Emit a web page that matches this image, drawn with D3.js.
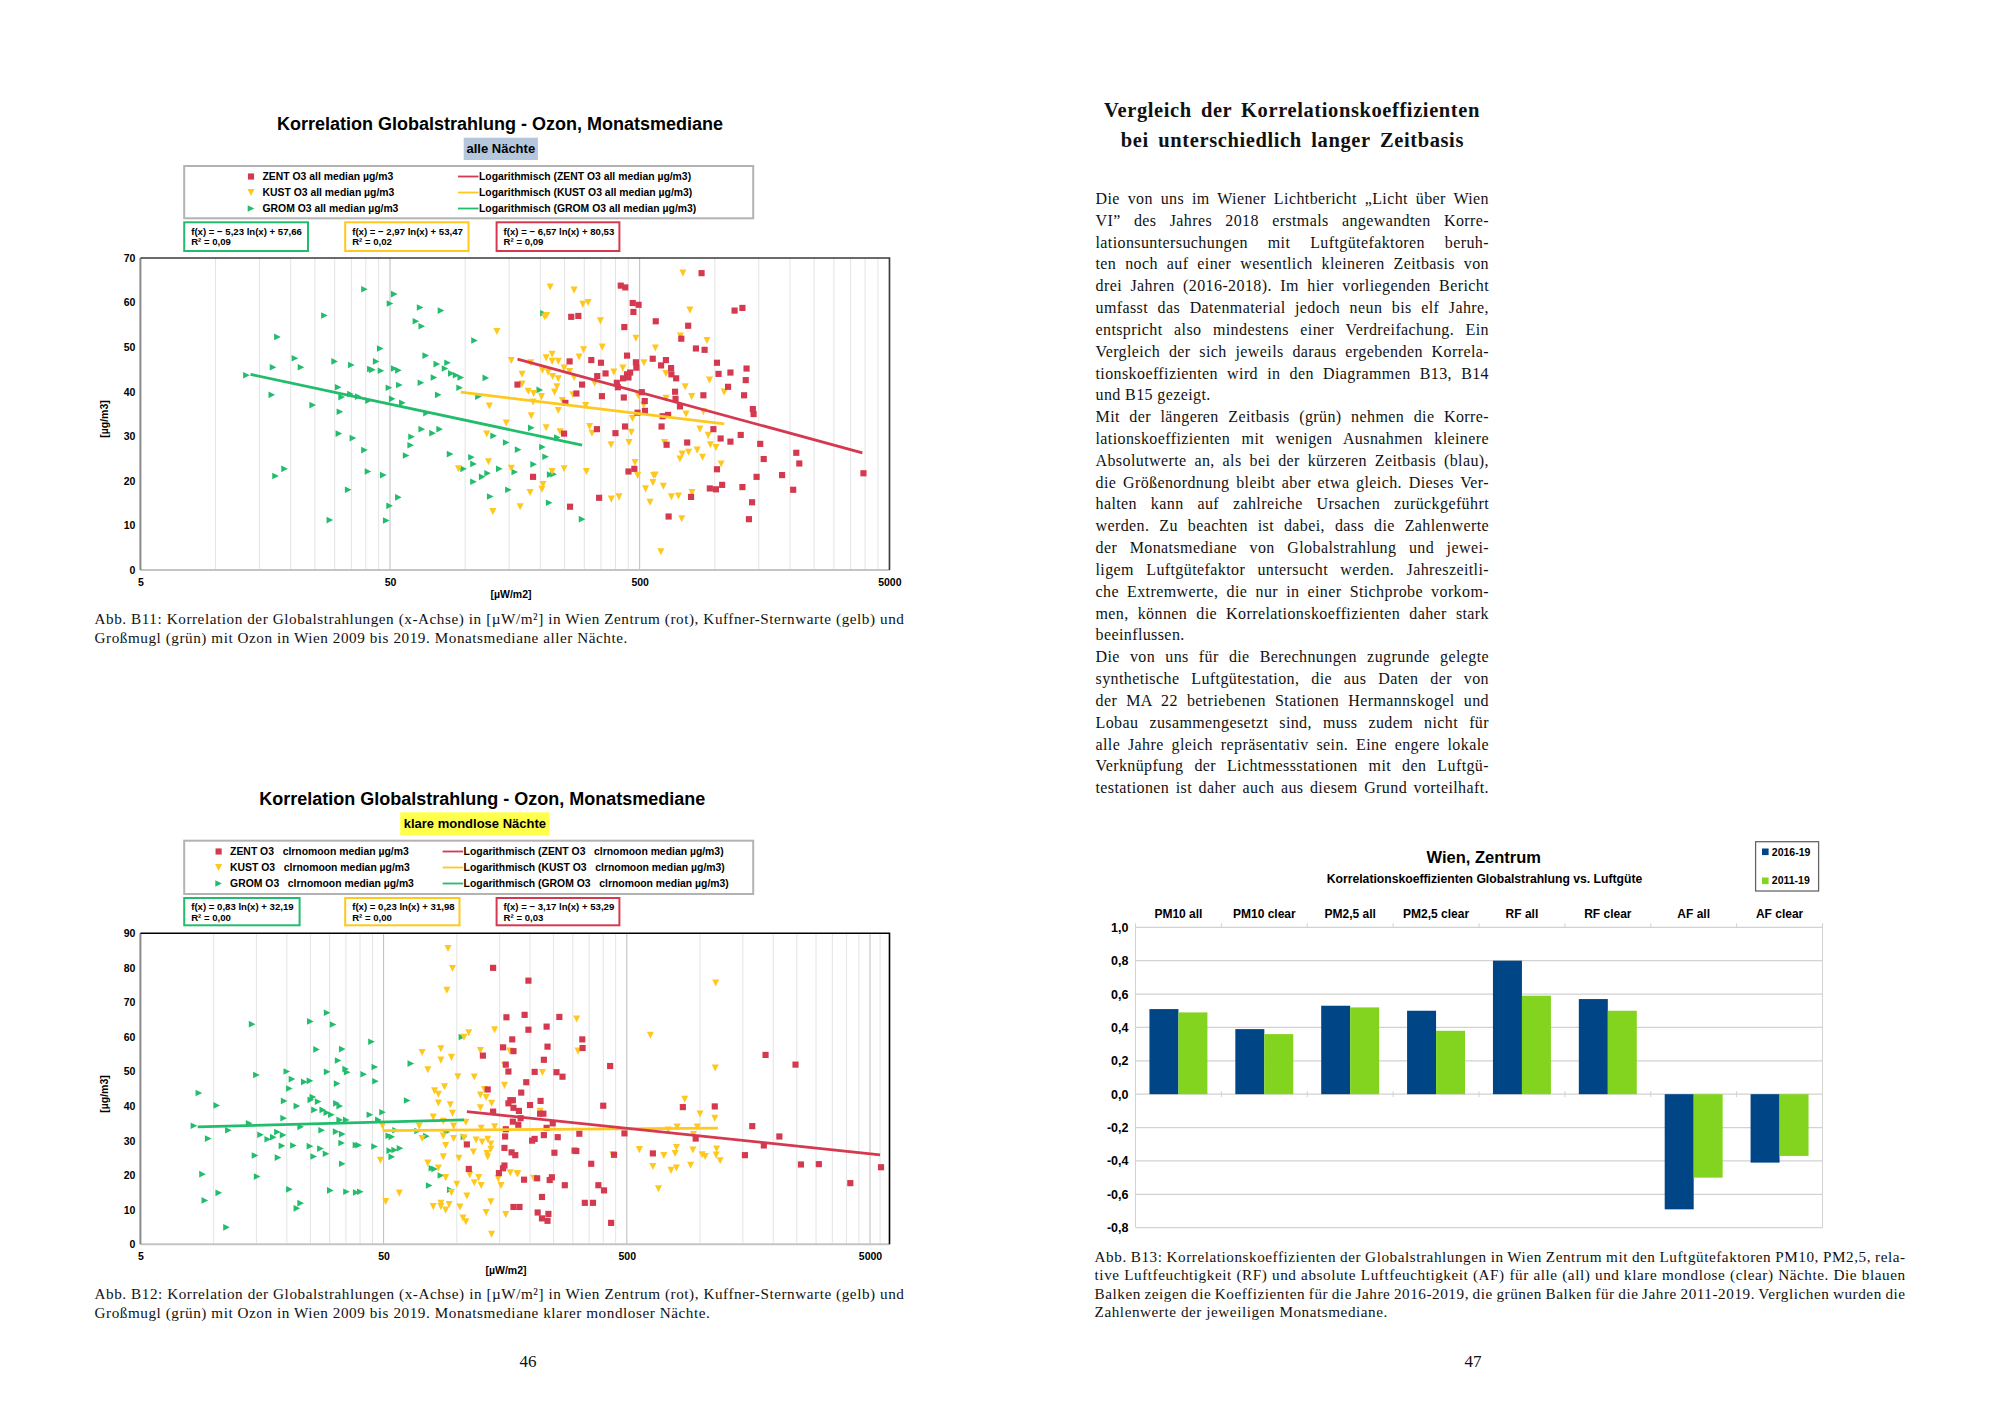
<!DOCTYPE html>
<html><head><meta charset="utf-8">
<script src="https://cdn.jsdelivr.net/npm/d3@7"></script>
<style>html,body{margin:0;padding:0;background:#fff}svg{display:block}
.s{font-family:"Liberation Sans",Arial,sans-serif;font-weight:bold;white-space:pre;fill:#000}
.r{font-family:"Liberation Serif",serif;fill:#111;white-space:pre}
.axis path,.axis line{display:none}
</style></head><body><svg id="c" width="2000" height="1414"></svg>
<script>
const grom1=[[39.5,63],[52,61.9],[50,59.8],[66,58.9],[80,58.2],[63.5,55.8],[67,54.7],[27.3,57.1],[17.7,52.3],[109,51.5],[45.7,49.7],[20.8,47.5],[30,46.8],[44,46.8],[69.5,48.1],[77,46.2],[85,46.5],[35,46],[17,45.5],[22,45.5],[41.7,45.1],[42.5,44.9],[46,44.7],[52,45.2],[54,44.8],[83,45.2],[88,44.1],[92,43.7],[96,43.2],[75,43.2],[121,43.1],[13.3,43.7],[66.5,42],[31,41],[49.5,40.9],[54.5,41.5],[95,40.9],[16.8,39.3],[32,38.8],[34.7,39.5],[37.3,38.9],[41,38],[51,38.4],[78,39.3],[113,38.9],[56,37.5],[24.5,37],[31.5,35.5],[70,35.2],[67,31.6],[79,31.6],[74,30.7],[31.2,30.6],[35.5,29.6],[61,29.9],[60.5,28],[130,30.1],[146,28.6],[163,27],[39.5,26.9],[58,25.7],[87,26],[106,25.3],[108,23.8],[18.9,22.7],[98.5,22.7],[137,22.7],[158,22],[40.8,22.1],[47,21.3],[17.4,21.1],[123,21.7],[117,20.9],[108,19.8],[34,18],[149,18],[54,16.3],[126,16.5],[49.8,14.4],[28.7,11.2],[48.3,11.1],[206,57.6],[199,40.4],[204,27.6],[210,25.4],[188,23.7],[219,21.4],[226,21.5],[217,15.1],[294,11.4],[184,31.9],[234,29.7]];
const kust1=[[219,63.5],[273,62.8],[311,60],[296,59.6],[212,57.1],[208,56.8],[348,55.9],[745,66.6],[795,58.3],[728,52.5],[483,52],[930,51.5],[578,49.8],[354,50],[298,49.4],[286,47.8],[223,48.4],[211,47.6],[223,46.8],[236,46.8],[153,47],[183,46.5],[249,45.3],[262,44.5],[204,44.8],[215,44.4],[169,43.9],[224,43.4],[236,42.9],[273,43.2],[394,44.4],[428,45.3],[520,46.5],[637,44.1],[169,41.7],[330,41.9],[233,41.1],[228,39.9],[179,40.1],[188,39.6],[202,38.9],[270,39.3],[187,37.7],[245,38],[494,39.1],[761,41.1],[952,42.6],[1090,39.9],[808,38.9],[638,38.5],[304,36.9],[236,35.8],[184,34.6],[767,35],[900,35.5],[468,34],[519,37],[146,33],[211,31.9],[315,32.2],[871,31.6],[240,31],[322,30.7],[463,30.9],[941,30.2],[384,28.1],[453,28.6],[629,28.6],[960,28.1],[1010,27.5],[850,26.9],[785,26.4],[740,26],[725,24.9],[893,25.3],[479,24.1],[1060,23.8],[153,22.8],[223,22.1],[249,22.7],[306,22.1],[569,21.2],[577,21.3],[491,21.2],[565,19.6],[622,18.8],[205,19.2],[203,18.1],[182,17.4],[528,18.2],[810,17.4],[385,15.9],[413,16.4],[550,15.2],[670,16.4],[715,16.6],[166,14.2],[737,11.5],[608,4.1],[134,53.5],[125,36.8],[122,30.5],[124,24.3],[94,22.7],[129,13.1]];
const zent1=[[885,66.6],[420,63.8],[438,63.4],[1290,58.8],[1200,58.2],[469,59.9],[495,59.5],[472,57.9],[266,56.8],[284,57],[580,55.8],[434,54.5],[782,54.8],[734,51.9],[840,49.7],[910,49.4],[445,48.1],[564,47.4],[637,47.1],[262,46.8],[320,47.1],[350,46.5],[483,46.6],[1020,46.5],[609,45.9],[668,45.3],[485,45.4],[1340,45.2],[1155,44.3],[1035,44],[365,44.1],[670,43.9],[458,44.3],[445,43.9],[338,43.5],[700,43],[429,43],[451,43.2],[1330,42.6],[405,42],[294,41.6],[409,41],[1130,41.1],[162,41.6],[279,39.6],[353,39],[432,38.7],[510,39.9],[900,39.2],[1310,39.2],[693,40],[696,38.4],[524,37.9],[252,37.5],[725,36.7],[1420,36.1],[1430,35],[525,35.7],[490,35.3],[618,34.5],[650,34.8],[437,32.2],[612,32.2],[337,31.6],[987,31.6],[249,30.6],[400,30.7],[1270,30.3],[1055,29.5],[775,28.6],[1155,28.8],[1520,28.3],[641,28.1],[2120,26.3],[1570,24.9],[2180,23.9],[1020,22.6],[476,22.7],[451,22.1],[3940,21.7],[1860,21.3],[1470,20.9],[187,20.9],[1070,19.1],[955,18.3],[1010,18.1],[1290,18.6],[2060,18],[344,16.2],[803,16.4],[263,14.2],[1410,15.2],[653,12],[1370,11.4]];
const grom2=[[8.7,43.8],[10.3,40.2],[8.3,34.3],[11.5,33],[9.5,30.6],[14,35],[14.4,63.7],[29.3,67],[25,64.5],[31,63.6],[44.6,58.6],[26.5,56.4],[33.8,56.5],[32.5,53.2],[34.9,50.7],[35.4,49.8],[46,51.3],[41.4,49.2],[29.3,49.9],[20,50],[15,49],[21,47.8],[23.6,47],[24.9,47.3],[32.2,46.5],[46.3,47.2],[20.5,45.1],[64.7,52.3],[62.5,41.6],[25.6,42.6],[25.1,41.8],[19.5,41.5],[26.9,41.3],[22,40],[32,40.8],[33,40],[26,38.9],[28.1,38.9],[29.2,38.1],[30.5,37.5],[19.4,36.5],[22.8,34],[33,36],[35.1,36],[43.9,37.5],[49.5,38.2],[47.6,36],[27.8,33],[31.9,32.6],[33.8,31.9],[15.6,31.7],[18.3,32.5],[19.3,31.6],[17.6,31],[16.7,30.4],[19.1,28.5],[21.3,28.6],[24.9,28.4],[27.5,27.7],[33.6,29.3],[38.5,28.7],[39.5,28.7],[45.9,28.3],[25.8,25.4],[29,26.2],[14.8,25.7],[18.4,25.1],[33.8,23.3],[53,27.1],[55.5,27.3],[58.4,27.8],[54,25.3],[52.5,31.4],[54,31.1],[56,33],[79,22],[81,21.8],[86,19.9],[77,17],[94,15.8],[9,20.3],[15.1,19.6],[10.5,14.9],[9.2,12.7],[11.3,4.9],[20.5,15.9],[30.2,15.6],[35.2,15.2],[38.6,15],[40.1,15.2],[22.8,11.9],[22,10.4],[105,60],[69,32.8],[75,31.3],[91,32.5],[107,31.1]];
const kust2=[[92,85.6],[96,79.8],[91,73.5],[112,61.2],[107,59.9],[143,62.1],[86,56.6],[72,55.5],[95,54.1],[86,53.3],[76,50.5],[101,48.5],[118,48.4],[125,56.1],[165,55.9],[157,51.8],[157,46],[89,45.6],[130,44.8],[81,44.4],[84,43.4],[125,43.2],[132,42.5],[139,40.8],[84,40.9],[94,40.4],[125,39.5],[96,37.9],[80,36.8],[88,35.6],[109,35.3],[49.5,34.3],[70,34.2],[97,34.2],[126,33.6],[143,34],[72,30.6],[88,31.3],[97,30.6],[107,30.8],[120,30.2],[127,29.6],[134,30.4],[138,29],[138,27.5],[117,26.7],[90,28.6],[133,26.3],[134,25.3],[88,25.3],[102,24.9],[48.5,24.3],[76,23.5],[84,22.1],[113,20.1],[90,19.3],[123,19.3],[148,19],[118,17.8],[126,17],[166,20.7],[178,20.4],[100,17.4],[152,17],[95,15],[110,14],[58,14.8],[51,12.4],[138,12.3],[86,11.9],[93,11.5],[80,10.9],[86,10.9],[90,9.9],[103,10.8],[132,9.2],[159,8.6],[106,7.6],[109,6.5],[139,2.9],[311,65.2],[625,60.5],[1160,75.6],[315,55.9],[1155,51],[225,49.7],[865,42],[1000,37.7],[1150,36.5],[220,38.5],[805,33.9],[975,33.9],[740,33.1],[940,31.8],[563,27.4],[800,28],[935,27.3],[1170,27.6],[710,25.7],[790,26.3],[1020,25.9],[1050,25.4],[1165,25.8],[1210,24.2],[640,22.5],[800,22.1],[760,21.4],[915,22.9],[675,16.1],[437,25.9],[177,20.4],[207,19.1]];
const zent2=[[141,80],[197,76.3],[160,65.7],[190,66.4],[197,62.1],[169,59.3],[155,57],[171,55.9],[128,54.6],[159,52],[163,50],[193,46.9],[134,44.8],[184,43.9],[166,41.7],[170,41.7],[163,40.8],[171,39.5],[180,38.6],[141,38.4],[183,36.5],[170,35.5],[179,34.6],[159,33.3],[158,31.2],[209,30.5],[110,28.9],[157,27.9],[168,26.6],[174,25.8],[157,22.8],[112,21.8],[155,22],[149,20.6],[189,18.7],[171,10.8],[181,10.8],[215,9.2],[234,63],[264,65.8],[328,59.3],[236,57.2],[329,56.8],[228,53.4],[427,51.6],[209,49.9],[257,49.8],[272,48.5],[221,41.5],[200,40.3],[400,40.1],[850,39.7],[1150,39.9],[220,37.8],[227,37.8],[248,35],[234,33.7],[228,31.6],[260,31],[204,30],[319,32],[489,32.1],[960,30.6],[1640,34.2],[1860,54.8],[2470,52],[2120,31.2],[252,26.5],[305,27.1],[310,27],[443,25.9],[640,26.3],[1530,25.8],[1830,28.6],[357,23.3],[2600,23.1],[3080,23.2],[5550,22.3],[4150,17.7],[214,19.1],[246,19.4],[241,18.6],[278,17.1],[382,17.1],[403,15.6],[224,13.7],[336,12],[363,12],[238,8.8],[224,7.5],[236,6.8],[431,6.2]];
const trend1={grom:[[13.8,43.9],[294,28]],kust:[[96,39.9],[1090,32.8]],zent:[[162,47.3],[3900,26.3]]};
const trend2={grom:[[8.6,34],[107,36]],kust:[[49.5,32.9],[1185,33.6]],zent:[[110,38.4],[5500,25.9]]};
const xTickValues=[5,50,500,5000];
const gridBase=[5,10,15,20,25,30,35,40,45];
const decades=[1,10,100];
const barCats=["PM10 all","PM10 clear","PM2,5 all","PM2,5 clear","RF all","RF clear","AF all","AF clear"];
const bars1619=[0.51,0.39,0.53,0.50,0.80,0.57,-0.69,-0.41];
const bars1119=[0.49,0.36,0.52,0.38,0.59,0.50,-0.50,-0.37];
const headLines=["Vergleich der Korrelationskoeffizienten","bei unterschiedlich langer Zeitbasis"];
const bodyLines=["Die von uns im Wiener Lichtbericht „Licht über Wien","VI” des Jahres 2018 erstmals angewandten Korre-","lationsuntersuchungen mit Luftgütefaktoren beruh-","ten noch auf einer wesentlich kleineren Zeitbasis von","drei Jahren (2016-2018). Im hier vorliegenden Bericht","umfasst das Datenmaterial jedoch neun bis elf Jahre,","entspricht also mindestens einer Verdreifachung. Ein","Vergleich der sich jeweils daraus ergebenden Korrela-","tionskoeffizienten wird in den Diagrammen B13, B14","und B15 gezeigt.","Mit der längeren Zeitbasis (grün) nehmen die Korre-","lationskoeffizienten mit wenigen Ausnahmen kleinere","Absolutwerte an, als bei der kürzeren Zeitbasis (blau),","die Größenordnung bleibt aber etwa gleich. Dieses Ver-","halten kann auf zahlreiche Ursachen zurückgeführt","werden. Zu beachten ist dabei, dass die Zahlenwerte","der Monatsmediane von Globalstrahlung und jewei-","ligem Luftgütefaktor untersucht werden. Jahreszeitli-","che Extremwerte, die nur in einer Stichprobe vorkom-","men, können die Korrelationskoeffizienten daher stark","beeinflussen.","Die von uns für die Berechnungen zugrunde gelegte","synthetische Luftgütestation, die aus Daten der von","der MA 22 betriebenen Stationen Hermannskogel und","Lobau zusammengesetzt sind, muss zudem nicht für","alle Jahre gleich repräsentativ sein. Eine engere lokale","Verknüpfung der Lichtmessstationen mit den Luftgü-","testationen ist daher auch aus diesem Grund vorteilhaft."];
const bodyLast=[9,20];
const capB11=["Abb. B11: Korrelation der Globalstrahlungen (x-Achse) in [µW/m²] in Wien Zentrum (rot), Kuffner-Sternwarte (gelb) und","Großmugl (grün) mit Ozon in Wien 2009 bis 2019. Monatsmediane aller Nächte."];
const capB12=["Abb. B12: Korrelation der Globalstrahlungen (x-Achse) in [µW/m²] in Wien Zentrum (rot), Kuffner-Sternwarte (gelb) und","Großmugl (grün) mit Ozon in Wien 2009 bis 2019. Monatsmediane klarer mondloser Nächte."];
const capB13=["Abb. B13: Korrelationskoeffizienten der Globalstrahlungen in Wien Zentrum mit den Luftgütefaktoren PM10, PM2,5, rela-","tive Luftfeuchtigkeit (RF) und absolute Luftfeuchtigkeit (AF) für alle (all) und klare mondlose (clear) Nächte. Die blauen","Balken zeigen die Koeffizienten für die Jahre 2016-2019, die grünen Balken für die Jahre 2011-2019. Verglichen wurden die","Zahlenwerte der jeweiligen Monatsmediane."];

const RED="#d5394f",YEL="#ffc81e",GRN="#22bd6c";
const svg=d3.select("#c");
function T(x,y,s,size,anchor,cls){return svg.append("text").attr("class",cls||"s").attr("x",x).attr("y",y).attr("font-size",size).attr("text-anchor",anchor||"start").text(s);}
const triDown={draw(c,s){const r=Math.sqrt(s)/2;c.moveTo(-r,-r);c.lineTo(r,-r);c.lineTo(0,r);c.closePath();}};
const triRight={draw(c,s){const r=Math.sqrt(s)/2;c.moveTo(-r,-r);c.lineTo(r,0);c.lineTo(-r,r);c.closePath();}};
const SQ=d3.symbol(d3.symbolSquare,38)(),TD=d3.symbol(triDown,50)(),TR=d3.symbol(triRight,44)();

function scatter(o){
  const x=d3.scaleLog().domain([5,5000]).range([140.4,o.xEnd]);
  const y=d3.scaleLinear().domain([0,o.ymax]).range([o.bottom,o.top]);
  const R=889.5,L=140.4;
  const g=svg.append("g");
  const grid=decades.flatMap(d=>gridBase.map(b=>b*d)).concat([5000]).filter(v=>v>5&&x(v)<R);
  const extra=d3.range(5500,7000,500).filter(v=>x(v)<R);
  g.selectAll(".gr").data(grid.concat(extra)).join("line").attr("x1",d=>x(d)).attr("x2",d=>x(d)).attr("y1",o.top).attr("y2",o.bottom)
    .attr("stroke",d=>(d==50||d==500||d==5000)?"#bdbdbd":"#e4e4e4").attr("stroke-width",1);
  const ax=g.append("g").attr("class","axis").attr("transform",`translate(0,${o.bottom})`)
    .call(d3.axisBottom(x).tickValues(xTickValues).tickFormat(d=>d).tickSizeOuter(0));
  ax.selectAll("text").attr("class","s").attr("font-size",10.5).attr("y",o.xLabelDy).attr("dy",0);
  const ay=g.append("g").attr("class","axis").attr("transform",`translate(${L},0)`)
    .call(d3.axisLeft(y).tickValues(d3.range(0,o.ymax+1,10)).tickFormat(d=>d).tickSizeOuter(0));
  ay.selectAll("text").attr("class","s").attr("font-size",10.5).attr("x",-5);
  g.append("path").attr("d",`M${L},${o.bottom}H${R}`).attr("stroke","#c4c4c4").attr("stroke-width",2).attr("fill","none");
  g.append("path").attr("d",`M${L},${o.bottom}V${o.top}`).attr("stroke","#8a8a8a").attr("stroke-width",2).attr("fill","none");
  g.append("path").attr("d",`M${L},${o.top}H${R}V${o.bottom}`).attr("stroke",o.frame).attr("stroke-width",1.6).attr("fill","none");
  const sets=[[o.grom,TR,GRN],[o.kust,TD,YEL],[o.zent,SQ,RED]];
  sets.forEach(([d,p,c])=>g.append("g").selectAll("path").data(d).join("path").attr("d",p).attr("fill",c)
     .attr("transform",v=>`translate(${x(v[0])},${y(v[1])})`));
  const ln=d3.line().x(d=>x(d[0])).y(d=>y(d[1]));
  [[o.trend.grom,GRN],[o.trend.kust,YEL],[o.trend.zent,RED]].forEach(([d,c])=>g.append("path").attr("d",ln(d)).attr("stroke",c).attr("stroke-width",2.8).attr("fill","none"));
  T(o.xTitleX,o.xTitleY,"[µW/m2]",10.5,"middle");
  svg.append("text").attr("class","s").attr("font-size",10.5).attr("text-anchor","middle").attr("transform",`translate(${108},${o.yTitleY}) rotate(-90)`).text("[µg/m3]");
  T(o.titleX,o.titleY,"Korrelation Globalstrahlung - Ozon, Monatsmediane",18,"middle");
  svg.append("rect").attr("x",o.sub[0]).attr("y",o.sub[1]).attr("width",o.sub[2]).attr("height",o.sub[3]).attr("fill",o.subFill);
  T(o.sub[0]+o.sub[2]/2,o.sub[4],o.subText,13,"middle");
  svg.append("rect").attr("x",184.2).attr("y",o.leg[0]).attr("width",569).attr("height",o.leg[1]).attr("fill","none").attr("stroke","#b3b3b3").attr("stroke-width",2);
  o.legRows.forEach((r,i)=>{
    const by=o.legY[i],c=[RED,YEL,GRN][i],p=[SQ,TD,TR][i];
    svg.append("path").attr("d",p).attr("fill",c).attr("transform",`translate(${o.symX},${by-3.5})`);
    T(o.symX+11.5,by,r[0],10.4);
    svg.append("line").attr("x1",o.lineX).attr("x2",o.lineX+20.5).attr("y1",by-3.5).attr("y2",by-3.5).attr("stroke",c).attr("stroke-width",1.8);
    T(o.lineX+21,by,r[1],10.4);
  });
  o.eq.forEach(e=>{
    svg.append("rect").attr("x",e[0]).attr("y",o.eqY[0]).attr("width",e[1]).attr("height",o.eqY[1]).attr("fill","none").attr("stroke",e[2]).attr("stroke-width",2);
    T(e[0]+7,o.eqY[2],e[3],9.6);T(e[0]+7,o.eqY[3],e[4],9.6);
  });
}
function legNames(a,b){return ["ZENT","KUST","GROM"].map(n=>[`${n} O3${a} median µg/m3`,`Logarithmisch (${n} O3${a} median µg/m3)`]);}
scatter({ymax:70,top:258,bottom:570,xEnd:889.3,frame:"#3a3a3a",xLabelDy:15.5,grom:grom1,kust:kust1,zent:zent1,trend:trend1,
 xTitleX:511,xTitleY:597.5,yTitleY:419,titleX:500,titleY:130,sub:[463.7,137.7,74.2,22.3,153],subFill:"#b4c7dc",subText:"alle Nächte",
 leg:[166,52.3],legRows:legNames(" all"),legY:[180,196,212],symX:251,lineX:458,
 eq:[[184.2,123.8,GRN,"f(x) = − 5,23 ln(x) + 57,66","R² = 0,09"],[345.2,123.3,YEL,"f(x) = − 2,97 ln(x) + 53,47","R² = 0,02"],[496.6,122.8,RED,"f(x) = − 6,57 ln(x) + 80,53","R² = 0,09"]],eqY:[222.3,28.7,234.7,245]});
scatter({ymax:90,top:933.3,bottom:1244.3,xEnd:870,frame:"#000",xLabelDy:16,grom:grom2,kust:kust2,zent:zent2,trend:trend2,
 xTitleX:506,xTitleY:1274,yTitleY:1094,titleX:482.3,titleY:805,sub:[400.2,812.3,149.3,22.7,828],subFill:"#ffff4d",subText:"klare mondlose Nächte",
 leg:[840.7,53.3],legRows:legNames("   clrnomoon"),legY:[855,871,887],symX:218.6,lineX:442.6,
 eq:[[184.2,115.4,GRN,"f(x) = 0,83 ln(x) + 32,19","R² = 0,00"],[345.2,114.3,YEL,"f(x) = 0,23 ln(x) + 31,98","R² = 0,00"],[496.6,122.8,RED,"f(x) = − 3,17 ln(x) + 53,29","R² = 0,03"]],eqY:[898,27.3,910.3,920.7]});

// bar chart
(function(){
  const x=d3.scaleBand().domain(barCats).range([1135.5,1822.5]).paddingInner(0.325).paddingOuter(0.1625);
  const s=d3.scaleBand().domain(["a","b"]).range([0,x.bandwidth()]);
  const y=d3.scaleLinear().domain([-0.8,1]).range([1227.7,927.3]);
  const g=svg.append("g");
  const yt=d3.range(-8,11,2).map(v=>v/10);
  g.selectAll(".h").data(yt).join("line").attr("x1",1135.5).attr("x2",1822.5).attr("y1",d=>y(d)).attr("y2",d=>y(d)).attr("stroke","#d2d2d2").attr("stroke-width",1.2);
  g.append("line").attr("x1",1135.5).attr("x2",1135.5).attr("y1",y(1)).attr("y2",y(-.8)).attr("stroke","#d2d2d2");
  g.append("line").attr("x1",1822.5).attr("x2",1822.5).attr("y1",y(1)).attr("y2",y(-.8)).attr("stroke","#d2d2d2");
  const step=x.step();
  const tk=barCats.map((d,i)=>1135.5+i*step).concat([1822.5]);
  g.selectAll(".t").data(tk).join("path").attr("d",d=>`M${d},${y(1)-4}V${y(1)}M${d},${y(0)-3}V${y(0)+3}`).attr("stroke","#d2d2d2");
  [[bars1619,"a","#004586"],[bars1119,"b","#83d41f"]].forEach(([v,k,c])=>g.append("g").selectAll("rect").data(v).join("rect")
    .attr("x",(d,i)=>x(barCats[i])+s(k)).attr("width",s.bandwidth()).attr("y",d=>y(Math.max(d,0))).attr("height",d=>Math.abs(y(d)-y(0))).attr("fill",c));
  const ay=g.append("g").attr("class","axis").attr("transform","translate(1135.5,0)").call(d3.axisLeft(y).tickValues(yt).tickFormat(d=>d3.format(".1f")(d).replace(".",",").replace("−","-")));
  ay.selectAll("text").attr("class","s").attr("font-size",12.5).attr("x",-7);
  barCats.forEach(c=>T(x(c)+x.bandwidth()/2,918.3,c,12,"middle"));
  T(1483.8,863.3,"Wien, Zentrum",16.5,"middle");
  T(1484.5,883.3,"Korrelationskoeffizienten Globalstrahlung vs. Luftgüte",12.2,"middle");
  svg.append("rect").attr("x",1755.6).attr("y",841.7).attr("width",63).attr("height",49.3).attr("fill","#fff").attr("stroke","#666").attr("stroke-width",1.3);
  svg.append("rect").attr("x",1762).attr("y",848.5).attr("width",6.6).attr("height",6.6).attr("fill","#004586");
  svg.append("rect").attr("x",1762).attr("y",877.5).attr("width",6.6).attr("height",6.6).attr("fill","#83d41f");
  T(1771.8,855.7,"2016-19",10.5);T(1771.8,884.3,"2011-19",10.5);
})();

// page text
function just(s,x,y,w,size,justify,weight,ls){
  const t=svg.append("text").attr("class","r").attr("x",x).attr("y",y).attr("font-size",size).text(s);
  if(weight) t.attr("font-weight",weight);
  if(ls) t.style("letter-spacing",ls+"px");
  if(justify){const sp=(s.match(/ /g)||[]).length;const len=t.node().getComputedTextLength();if(sp)t.style("word-spacing",((w-len)/sp)+"px");}
  return t;
}
just(headLines[0],1104,116.7,376,20.5,true,"bold",0.6);
just(headLines[1],1120.7,146.7,343.3,20.5,true,"bold",0.6);
bodyLines.forEach((l,i)=>just(l,1095.5,204+i*21.82,393.5,16,!bodyLast.includes(i),null,0.4));
capB11.forEach((l,i)=>just(l,94.5,624+i*19,810,15.2,i==0,null,0.55));
capB12.forEach((l,i)=>just(l,94.5,1299+i*19,810,15.2,i==0,null,0.55));
capB13.forEach((l,i)=>just(l,1094.6,1262+i*18.4,811,15.2,i<3,null,0.55));
just("46",528-8.5,1367,0,17);
just("47",1473-8.5,1367,0,17);
</script></body></html>
